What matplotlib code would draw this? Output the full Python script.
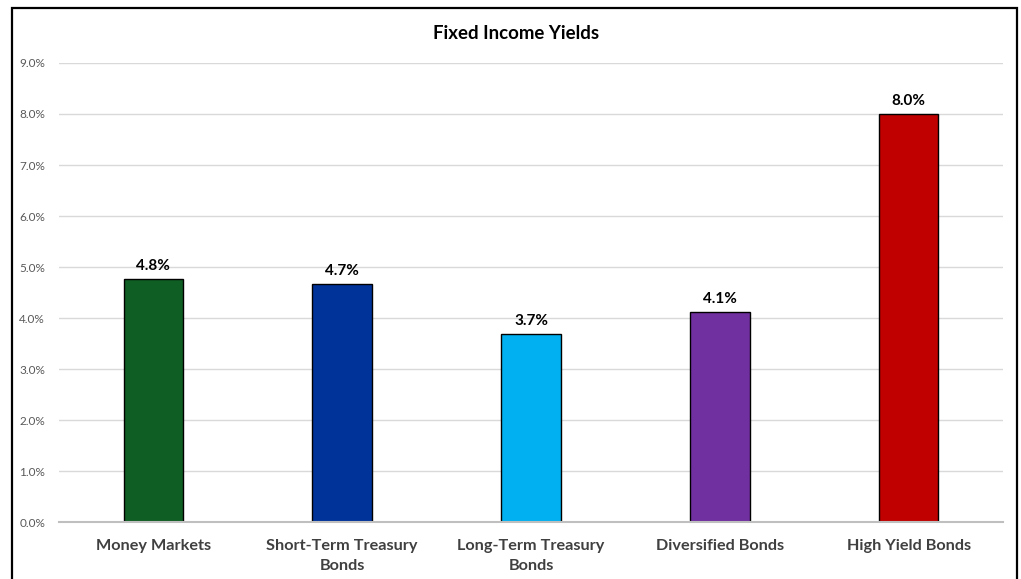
import matplotlib
matplotlib.use("Agg")
import matplotlib.pyplot as plt
from matplotlib.patches import Rectangle
from matplotlib.ticker import FuncFormatter

categories = ["Money Markets", "Short-Term Treasury\nBonds", "Long-Term Treasury\nBonds",
              "Diversified Bonds", "High Yield Bonds"]
yields = [4.76, 4.67, 3.69, 4.12, 8.0]
colors = ["#0F5E24", "#00339A", "#00B0F0", "#7030A0", "#C00000"]
yticks = [0, 1, 2, 3, 4, 5, 6, 7, 8, 9]

plt.rcParams["font.family"] = ["Lato", "DejaVu Sans"]

fig = plt.figure(figsize=(10.21, 5.79), dpi=100)
ax = fig.add_axes([0.0578, 0.0984, 0.9246, 0.7928])

x = range(len(categories))
ax.bar(x, yields, width=0.315, color=colors, edgecolor="black", linewidth=1.0, zorder=3)
for xi, v in zip(x, yields):
    ax.text(xi, v + 0.12, f"{v:.1f}%", ha="center", va="bottom",
            fontsize=11, fontweight="bold", color="black")

ax.set_xlim(-0.5, len(categories) - 0.5)
ax.set_ylim(0, 9)
ax.set_yticks(yticks)
ax.yaxis.set_major_formatter(FuncFormatter(lambda v, _: f"{v:.1f}%"))
ax.set_xticks(list(x))
ax.set_xticklabels(categories, fontsize=11.7, fontweight="bold", color="#404040", linespacing=1.6)
ax.tick_params(axis="y", length=0, labelsize=8.5, labelcolor="#595959", pad=10)
ax.tick_params(axis="x", length=0, pad=12)
ax.grid(axis="y", color="#D9D9D9", linewidth=1.0, zorder=0)
for s in ["top", "right", "left"]:
    ax.spines[s].set_visible(False)
ax.spines["bottom"].set_color("#BFBFBF")
ax.spines["bottom"].set_linewidth(1.5)
ax.spines["bottom"].set_zorder(4)

fig.text(0.505, 0.943, "Fixed Income Yields", ha="center", va="center",
         fontsize=13.4, fontweight="bold", color="black")

# outer frame, open at the bottom edge
fig.patches.append(Rectangle((12 / 1021, -0.05), (1017 - 12) / 1021, 1.05 - 8 / 579,
                             transform=fig.transFigure, fill=False,
                             edgecolor="black", linewidth=1.6, clip_on=False))

fig.savefig("out.png", dpi=100)
